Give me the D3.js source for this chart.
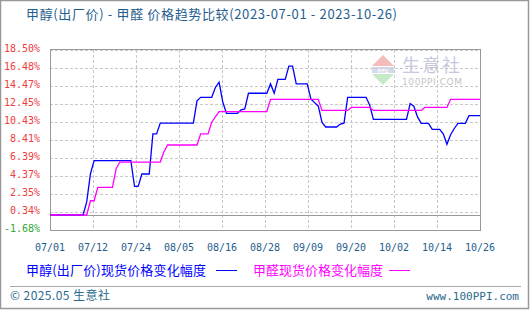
<!DOCTYPE html>
<html>
<head>
<meta charset="utf-8">
<script src="https://cdn.jsdelivr.net/npm/d3@7"></script>
<style>
  html, body { margin: 0; padding: 0; background: #fff; }
  svg { display: block; }
</style>
</head>
<body>
<div id="chart"></div>
<script>
const methanolDates = ['2023-07-01', '2023-07-10', '2023-07-11', '2023-07-12', '2023-07-13', '2023-07-23', '2023-07-24',
  '2023-07-25', '2023-07-26', '2023-07-28', '2023-07-29', '2023-07-30', '2023-07-31', '2023-08-09', '2023-08-10',
  '2023-08-11', '2023-08-14', '2023-08-15', '2023-08-16', '2023-08-17', '2023-08-18', '2023-08-21', '2023-08-22',
  '2023-08-23', '2023-08-24', '2023-08-29', '2023-08-30', '2023-08-31', '2023-09-01', '2023-09-03', '2023-09-04',
  '2023-09-05', '2023-09-06', '2023-09-09', '2023-09-10', '2023-09-11', '2023-09-12', '2023-09-13', '2023-09-14',
  '2023-09-17', '2023-09-18', '2023-09-19', '2023-09-20', '2023-09-25', '2023-09-26', '2023-09-27', '2023-10-06',
  '2023-10-07', '2023-10-08', '2023-10-09', '2023-10-10', '2023-10-12', '2023-10-13', '2023-10-15', '2023-10-16',
  '2023-10-17', '2023-10-18', '2023-10-19', '2023-10-20', '2023-10-22', '2023-10-23', '2023-10-26'];
const methanolValues = [0, 0, 1.5, 4.6, 6.1, 6.1, 3.2,
  3.2, 4.6, 4.6, 9.1, 9.1, 10.3, 10.3, 12.8,
  13.2, 13.2, 14.3, 14.9, 12.7, 11.4, 11.4, 11.8,
  11.9, 13.65, 13.65, 14.7, 13.65, 15.2, 15.2, 16.7,
  16.7, 14.7, 14.7, 13.0, 12.6, 12.2, 10.4, 9.87,
  9.87, 10.2, 10.3, 13.2, 13.2, 12.3, 10.73, 10.73,
  12.5, 12.2, 11.0, 10.28, 10.28, 9.6, 9.6, 9.1,
  7.93, 9.0, 9.7, 10.28, 10.28, 11.14, 11.14];

const formaldehydeDates = ['2023-07-01', '2023-07-11', '2023-07-12', '2023-07-13', '2023-07-14', '2023-07-18', '2023-07-19',
  '2023-07-20', '2023-07-31', '2023-08-01', '2023-08-02', '2023-08-10', '2023-08-11', '2023-08-13', '2023-08-14',
  '2023-08-15', '2023-08-16', '2023-08-29', '2023-08-30', '2023-09-12', '2023-09-13', '2023-09-20', '2023-09-21',
  '2023-09-26', '2023-09-27', '2023-10-10', '2023-10-11', '2023-10-17', '2023-10-18', '2023-10-26'];
const formaldehydeValues = [0, 0, 1.6, 1.6, 3.1, 3.1, 5.2,
  5.94, 5.94, 7.1, 7.85, 7.85, 9.1, 9.1, 10.4,
  11.0, 11.6, 11.6, 12.97, 12.97, 11.73, 11.73, 12.06,
  12.06, 11.73, 11.73, 12.06, 12.06, 12.97, 12.97];

const yTickValues = [-1.68, 0.34, 2.35, 4.37, 6.39, 8.41, 10.43, 12.45, 14.47, 16.48, 18.50];
const yTickLabels = ['-1.68%', '0.34%', '2.35%', '4.37%', '6.39%', '8.41%', '10.43%', '12.45%', '14.47%', '16.48%', '18.50%'];
const xTickLabels = ['07/01', '07/12', '07/24', '08/05', '08/16', '08/28', '09/09', '09/20', '10/02', '10/14', '10/26'];
const dateRange = ['2023-07-01', '2023-10-26'];

const seriesNames = ['甲醇(出厂价)现货价格变化幅度', '甲醛现货价格变化幅度'];
const titleText = '甲醇(出厂价) - 甲醛 价格趋势比较(2023-07-01 - 2023-10-26)';

const width = 530;
const height = 310;
const margin = {top: 50, right: 50, bottom: 80, left: 50};
const cjkFont = '"Noto Sans CJK SC", "Noto Sans", sans-serif';
const monoFont = '"DejaVu Sans Mono", "Liberation Mono", monospace';
const blue = '#0000ff';
const magenta = '#ff00ff';
const textBlue = '#1f5e8e';

const parseDate = d3.timeParse('%Y-%m-%d');

const series = [
  {name: seriesNames[0], color: blue, points: methanolDates.map((d, i) => ({date: parseDate(d), value: methanolValues[i]}))},
  {name: seriesNames[1], color: magenta, points: formaldehydeDates.map((d, i) => ({date: parseDate(d), value: formaldehydeValues[i]}))}
];

const svg = d3.select('#chart').append('svg')
  .attr('width', width)
  .attr('height', height);

// outer frame
svg.append('rect')
  .attr('x', 0.5).attr('y', 0.5)
  .attr('width', width - 2).attr('height', height - 2)
  .attr('fill', '#fff')
  .attr('stroke', '#999')
  .attr('stroke-width', 1.5);

const x = d3.scaleTime()
  .domain(dateRange.map(parseDate))
  .range([margin.left, width - margin.right]);

const xLabels = d3.scalePoint()
  .domain(xTickLabels)
  .range([margin.left, width - margin.right]);

const y = d3.scaleLinear()
  .domain([yTickValues[0], yTickValues[yTickValues.length - 1]])
  .range([height - margin.bottom, margin.top]);

// watermark
const wm = svg.append('g').attr('transform', 'translate(372,55)');
wm.append('path').attr('d', 'M11,0 L22,11 L0,11 Z').attr('fill', '#f6bcbc');
wm.append('rect').attr('x', 0).attr('y', 12).attr('width', 22).attr('height', 6).attr('fill', '#d6d9ea');
wm.append('text').attr('x', 11).attr('y', 17.5).attr('text-anchor', 'middle')
  .attr('font-family', monoFont).attr('font-size', 6).attr('font-weight', 'bold').attr('fill', '#fff').text('PPI');
wm.append('path').attr('d', 'M0,19 L22,19 L11,30 Z').attr('fill', '#c6ebc6');
wm.append('text').attr('x', 30).attr('y', 17)
  .attr('font-family', cjkFont).attr('font-size', 18).attr('fill', '#c5c9de')
  .attr('textLength', 58).text('生意社');
wm.append('text').attr('x', 30).attr('y', 30)
  .attr('font-family', '"DejaVu Sans", sans-serif').attr('font-size', 9).attr('fill', '#c4c4c4')
  .attr('textLength', 60).text('100PPI.COM');

// grid
svg.append('g')
  .selectAll('line')
  .data(yTickValues)
  .join('line')
    .attr('x1', margin.left).attr('x2', width - margin.right)
    .attr('y1', d => Math.round(y(d)) + 0.5).attr('y2', d => Math.round(y(d)) + 0.5)
    .attr('stroke', '#c8c8c8')
    .attr('stroke-dasharray', '3,2');

svg.append('g')
  .selectAll('line')
  .data(xTickLabels)
  .join('line')
    .attr('x1', d => Math.round(xLabels(d)) + 0.5).attr('x2', d => Math.round(xLabels(d)) + 0.5)
    .attr('y1', margin.top).attr('y2', height - margin.bottom)
    .attr('stroke', '#c8c8c8')
    .attr('stroke-dasharray', '3,2');

// zero line
svg.append('line')
  .attr('x1', margin.left).attr('x2', width - margin.right)
  .attr('y1', Math.round(y(0)) + 0.5).attr('y2', Math.round(y(0)) + 0.5)
  .attr('stroke', '#999');

// plot frame
svg.append('rect')
  .attr('x', margin.left + 0.5).attr('y', margin.top - 0.5)
  .attr('width', width - margin.left - margin.right)
  .attr('height', height - margin.top - margin.bottom + 1)
  .attr('fill', 'none')
  .attr('stroke', '#999');

// y labels
svg.append('g')
  .selectAll('text')
  .data(yTickValues)
  .join('text')
    .attr('x', 40)
    .attr('y', d => y(d) + 2)
    .attr('text-anchor', 'end')
    .attr('font-family', monoFont)
    .attr('font-size', 10)
    .attr('fill', d => d < 0 ? '#33a833' : '#f03c3c')
    .text((d, i) => yTickLabels[i]);

// x labels
svg.append('g')
  .selectAll('text')
  .data(xTickLabels)
  .join('text')
    .attr('x', d => xLabels(d))
    .attr('y', 251)
    .attr('text-anchor', 'middle')
    .attr('font-family', monoFont)
    .attr('font-size', 10)
    .attr('fill', textBlue)
    .text(d => d);

const line = d3.line()
  .x(d => x(d.date))
  .y(d => y(d.value));

svg.append('g')
  .attr('fill', 'none')
  .attr('stroke-width', 1.3)
  .attr('stroke-linejoin', 'miter')
  .selectAll('path')
  .data(series)
  .join('path')
    .attr('stroke', d => d.color)
    .attr('d', d => line(d.points));

// title
svg.append('text')
  .attr('x', 26).attr('y', 19)
  .attr('font-family', cjkFont)
  .attr('font-size', 13)
  .attr('fill', textBlue)
  .attr('textLength', 371)
  .text(titleText);

// legend
const legendItems = [
  {x: 26, textWidth: 180, lineX: 216},
  {x: 253, textWidth: 130, lineX: 389}
];

const legend = svg.append('g')
  .selectAll('g')
  .data(series)
  .join('g');

legend.append('text')
  .attr('x', (d, i) => legendItems[i].x)
  .attr('y', 275)
  .attr('font-family', cjkFont)
  .attr('font-size', 13)
  .attr('fill', d => d.color)
  .attr('textLength', (d, i) => legendItems[i].textWidth)
  .text(d => d.name);

legend.append('line')
  .attr('x1', (d, i) => legendItems[i].lineX)
  .attr('x2', (d, i) => legendItems[i].lineX + 21)
  .attr('y1', 270.5).attr('y2', 270.5)
  .attr('stroke', d => d.color)
  .attr('stroke-width', 1);

// footer
svg.append('line')
  .attr('x1', 10).attr('x2', 521)
  .attr('y1', 286.5).attr('y2', 286.5)
  .attr('stroke', '#aaa');

svg.append('text')
  .attr('x', 10).attr('y', 300)
  .attr('font-family', cjkFont)
  .attr('font-size', 12)
  .attr('fill', '#2b6a8e')
  .attr('textLength', 100)
  .text('© 2025.05 生意社');

svg.append('text')
  .attr('x', 519).attr('y', 300)
  .attr('text-anchor', 'end')
  .attr('font-family', monoFont)
  .attr('font-size', 11)
  .attr('fill', '#2b6a8e')
  .text('www.100PPI.com');
</script>
</body>
</html>
